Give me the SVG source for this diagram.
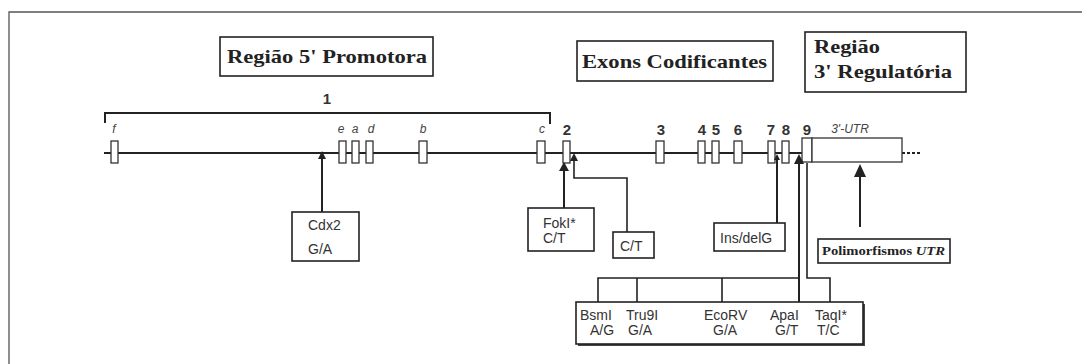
<svg xmlns="http://www.w3.org/2000/svg" width="1082" height="364" viewBox="0 0 1082 364">
<style>
.frame{fill:none;stroke:#555;stroke-width:1.3}
.title{font-family:"Liberation Serif","Times New Roman",serif;font-weight:bold;font-size:19px;fill:#222}
.box{fill:#fff;stroke:#222;stroke-width:1.6}
.exon{fill:#fff;stroke:#333;stroke-width:1.3}
.lbl{font-family:"Liberation Sans",Arial,sans-serif;font-size:14px;fill:#333}
.num{font-family:"Liberation Sans",Arial,sans-serif;font-weight:bold;font-size:15px;fill:#333;text-anchor:middle}
.it{font-family:"Liberation Sans",Arial,sans-serif;font-style:italic;font-size:12px;fill:#444;text-anchor:middle}
.ln{stroke:#222;stroke-width:2;fill:none}
.thin{stroke:#222;stroke-width:1.6;fill:none}
.ah{fill:#222}
.serif{font-family:"Liberation Serif","Times New Roman",serif;font-weight:bold;font-size:13px;fill:#222}
</style>
<path class="frame" d="M9,364 V12 H1082"/>

<g id="title-promotora">
<rect class="box" x="220" y="37" width="213" height="39"/>
<text class="title" x="227" y="63" textLength="200" lengthAdjust="spacingAndGlyphs">Região 5' Promotora</text>
</g>
<g id="title-exons">
<rect class="box" x="577" y="41" width="196" height="40"/>
<text class="title" x="582" y="68" textLength="185" lengthAdjust="spacingAndGlyphs">Exons Codificantes</text>
</g>
<g id="title-regulatoria">
<rect class="box" x="805" y="32" width="161" height="60"/>
<text class="title" x="814" y="53" textLength="66" lengthAdjust="spacingAndGlyphs">Região</text>
<text class="title" x="814" y="78" textLength="138" lengthAdjust="spacingAndGlyphs">3' Regulatória</text>
</g>

<g id="gene">
<path class="ln" d="M105,123 V113 H550 V124"/>
<text class="num" x="327" y="104">1</text>
<path class="ln" d="M104,153 H902"/>
<path class="ln" d="M902,153 H922" stroke-dasharray="3,2"/>
<rect class="exon" x="111" y="141" width="7" height="22"/>
<rect class="exon" x="339" y="141" width="7" height="22"/>
<rect class="exon" x="352" y="141" width="7" height="22"/>
<rect class="exon" x="366" y="141" width="7" height="22"/>
<rect class="exon" x="419" y="141" width="8" height="22"/>
<rect class="exon" x="537" y="141" width="8" height="22"/>
<rect class="exon" x="563" y="141" width="7" height="22"/>
<rect class="exon" x="656" y="141" width="8" height="22"/>
<rect class="exon" x="698" y="141" width="7" height="22"/>
<rect class="exon" x="712" y="141" width="7" height="22"/>
<rect class="exon" x="734" y="141" width="8" height="22"/>
<rect class="exon" x="768" y="141" width="7" height="22"/>
<rect class="exon" x="782" y="141" width="7" height="22"/>
<rect class="exon" x="802" y="138" width="10" height="24"/>
<rect class="exon" x="812" y="138" width="90" height="24"/>
<text class="it" x="114" y="133">f</text>
<text class="it" x="341" y="133">e</text>
<text class="it" x="355" y="133">a</text>
<text class="it" x="371" y="133">d</text>
<text class="it" x="423" y="133">b</text>
<text class="it" x="542" y="133">c</text>
<text class="num" x="567" y="135">2</text>
<text class="num" x="661" y="135">3</text>
<text class="num" x="702" y="135">4</text>
<text class="num" x="716" y="135">5</text>
<text class="num" x="738" y="135">6</text>
<text class="num" x="771" y="135">7</text>
<text class="num" x="786" y="135">8</text>
<text class="num" x="807" y="135">9</text>
<text class="it" x="850" y="133" fill="#666">3'-UTR</text>
</g>

<g id="connectors">
<path class="ln" d="M322,212 V157"/>
<polygon class="ah" points="322,151 318,159 326,159"/>
<path class="ln" d="M564,208 V168" stroke-width="2.4"/>
<polygon class="ah" points="564,162 559,171 569,171"/>
<path class="thin" d="M627,232 V178 H574 V159"/>
<polygon class="ah" points="574,153 570,161 578,161"/>
<path class="ln" d="M777,223 V158"/>
<polygon class="ah" points="777,154 774,160 780,160"/>
<path class="ln" d="M799,302 V160"/>
<polygon class="ah" points="799,154 794,164 804,164"/>
<path class="thin" d="M807,163 V278 H830 V302"/>
<path class="thin" d="M598,302 V278 H799 M637,278 V302 M722,278 V302"/>
<path class="ln" d="M860,227 V172" stroke-width="4"/>
<polygon class="ah" points="860,164 854,177 866,177"/>
</g>

<g id="cdx2">
<rect class="box" x="292" y="212" width="67" height="49"/>
<text class="lbl" x="308" y="230">Cdx2</text>
<text class="lbl" x="308" y="254">G/A</text>
</g>
<g id="foki">
<rect class="box" x="528" y="208" width="66" height="43"/>
<text class="lbl" x="543" y="228">FokI*</text>
<text class="lbl" x="543" y="243">C/T</text>
</g>
<g id="ct">
<rect class="box" x="613" y="232" width="41" height="26"/>
<text class="lbl" x="620" y="251">C/T</text>
</g>
<g id="insdel">
<rect class="box" x="714" y="223" width="71" height="28"/>
<text class="lbl" x="720" y="243">Ins/delG</text>
</g>
<g id="utr-poly">
<rect class="box" x="818" y="239" width="132" height="24"/>
<text class="serif" x="822" y="255" textLength="123" lengthAdjust="spacingAndGlyphs">Polimorfismos <tspan font-style="italic">UTR</tspan></text>
</g>
<g id="polys">
<rect x="578" y="304" width="287" height="42" fill="#444"/>
<rect class="box" x="576" y="302" width="287" height="42"/>
<text class="lbl" x="580" y="320">BsmI</text>
<text class="lbl" x="590" y="335">A/G</text>
<text class="lbl" x="626" y="320">Tru9I</text>
<text class="lbl" x="628" y="335">G/A</text>
<text class="lbl" x="704" y="320">EcoRV</text>
<text class="lbl" x="713" y="335">G/A</text>
<text class="lbl" x="770" y="320">ApaI</text>
<text class="lbl" x="775" y="335">G/T</text>
<text class="lbl" x="815" y="320">TaqI*</text>
<text class="lbl" x="817" y="335">T/C</text>
</g>
</svg>
